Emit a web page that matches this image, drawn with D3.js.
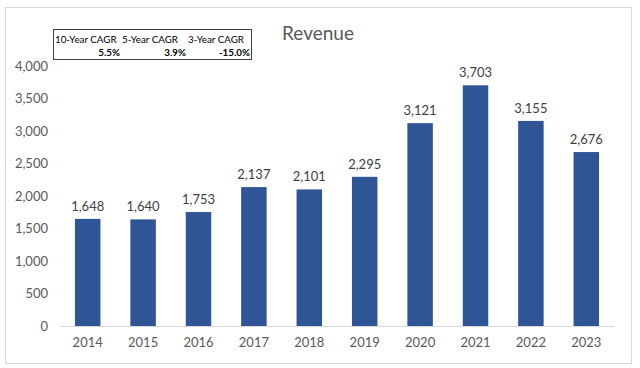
<!DOCTYPE html>
<html>
<head>
<meta charset="utf-8">
<script src="https://cdn.jsdelivr.net/npm/d3@7"></script>
<style>
  body { margin: 0; background: #fff; }
  text { font-family: Lato, "Open Sans", sans-serif; }
</style>
</head>
<body>
<div id="chart"></div>
<script>
var years = ["2014", "2015", "2016", "2017", "2018", "2019", "2020", "2021", "2022", "2023"];
var revenue = [1648, 1640, 1753, 2137, 2101, 2295, 3121, 3703, 3155, 2676];
var yTicks = [0, 500, 1000, 1500, 2000, 2500, 3000, 3500, 4000];
var cagrLabels = ["10-Year CAGR", "5-Year CAGR", "3-Year CAGR"];
var cagrValues = ["5.5%", "3.9%", "-15.0%"];

var svg = d3.select("#chart").append("svg")
    .attr("width", 640)
    .attr("height", 368);

// outer chart border
svg.append("rect")
    .attr("x", 5.5).attr("y", 7.5)
    .attr("width", 626).attr("height", 356)
    .attr("fill", "#fff")
    .attr("stroke", "#d9d9d9");

var x = d3.scaleBand()
    .domain(years)
    .range([60, 614])
    .paddingInner(0.54)
    .paddingOuter(0.27);

var y = d3.scaleLinear()
    .domain([0, 4000])
    .range([326, 66]);

// y axis labels
var yAxis = svg.append("g")
    .attr("transform", "translate(48,0)")
    .call(d3.axisLeft(y).tickValues(yTicks).tickSize(0).tickPadding(0).tickFormat(d3.format(",")));
yAxis.select(".domain").remove();
yAxis.selectAll("text")
    .attr("fill", "#595959")
    .style("font-size", "13px");

// x axis
var xAxis = svg.append("g")
    .attr("transform", "translate(0,326)")
    .call(d3.axisBottom(x).tickSize(0).tickPadding(12));
xAxis.select(".domain").attr("stroke", "#d9d9d9");
xAxis.selectAll("text")
    .attr("fill", "#595959")
    .style("font-size", "13px");

// bars
svg.selectAll(".bar")
    .data(revenue)
    .enter()
    .append("rect")
    .attr("class", "bar")
    .attr("x", (d, i) => x(years[i]))
    .attr("y", d => y(d))
    .attr("width", x.bandwidth())
    .attr("height", d => y(0) - y(d))
    .attr("fill", "#2F5597");

// data labels
svg.selectAll(".lbl")
    .data(revenue)
    .enter()
    .append("text")
    .attr("class", "lbl")
    .attr("x", (d, i) => x(years[i]) + x.bandwidth() / 2)
    .attr("y", d => y(d) - 8)
    .attr("text-anchor", "middle")
    .attr("fill", "#404040")
    .style("font-size", "13px")
    .text(d => d3.format(",")(d));

// title
svg.append("text")
    .attr("x", 318)
    .attr("y", 40)
    .attr("text-anchor", "middle")
    .attr("fill", "#595959")
    .style("font-size", "19px")
    .text("Revenue");

// CAGR box
var box = svg.append("g");
box.append("rect")
    .attr("x", 53.5).attr("y", 29.5)
    .attr("width", 198).attr("height", 30)
    .attr("fill", "#fff")
    .attr("stroke", "#404040");

var colLeft = [55, 122, 188];
var colRight = [120, 186, 250];
box.selectAll(".cl")
    .data(cagrLabels)
    .enter()
    .append("text")
    .attr("x", (d, i) => colLeft[i])
    .attr("y", 43)
    .attr("fill", "#000")
    .style("font-size", "9.8px")
    .text(d => d);
box.selectAll(".cv")
    .data(cagrValues)
    .enter()
    .append("text")
    .attr("x", (d, i) => colRight[i])
    .attr("y", 56)
    .attr("text-anchor", "end")
    .attr("fill", "#000")
    .style("font-size", "9.8px")
    .style("font-weight", "bold")
    .text(d => d);
</script>
</body>
</html>
